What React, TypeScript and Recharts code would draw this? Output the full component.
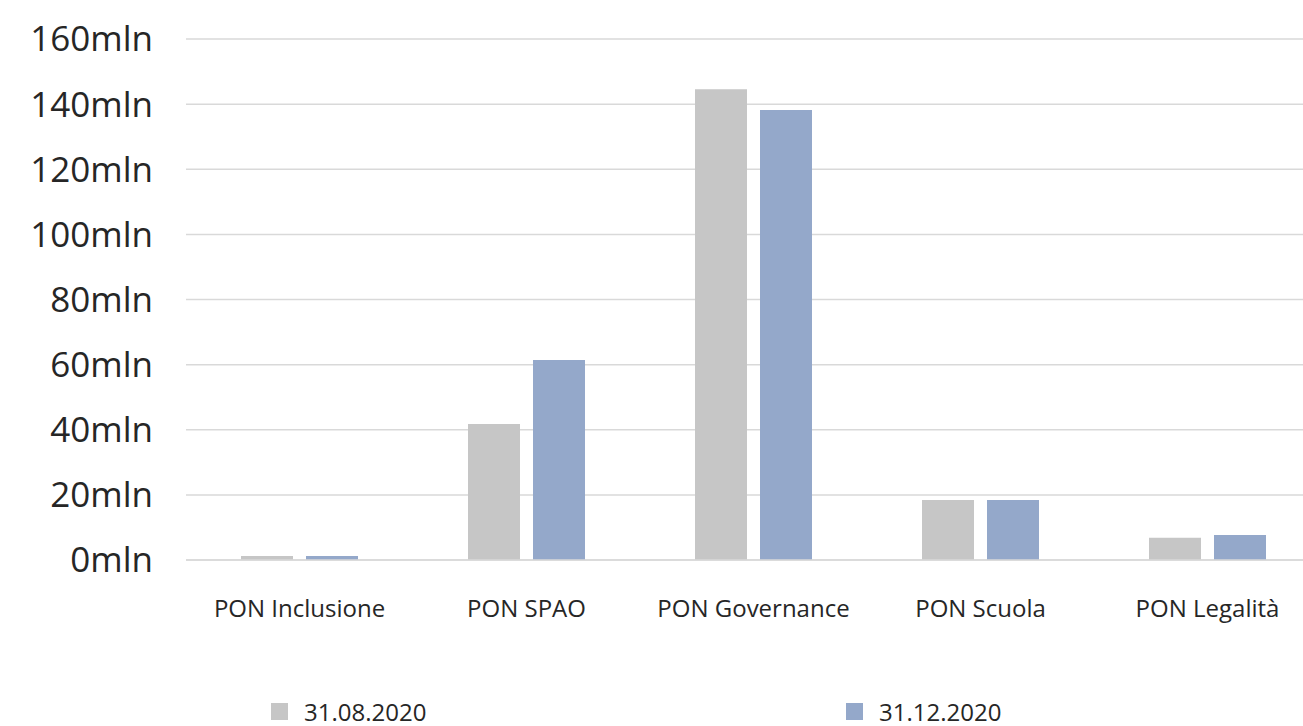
import { BarChart, Bar, XAxis, YAxis, CartesianGrid, Legend } from 'recharts';

const categories = ['PON Inclusione', 'PON SPAO', 'PON Governance', 'PON Scuola', 'PON Legalità'];
const agosto2020 = [1.2, 41.8, 144.6, 18.4, 6.8];
const dicembre2020 = [1.2, 61.4, 138.2, 18.4, 7.7];
const yTicks = [0, 20, 40, 60, 80, 100, 120, 140, 160];

const series = [
  { key: 'agosto', name: '31.08.2020', color: '#c6c6c6', left: 271 },
  { key: 'dicembre', name: '31.12.2020', color: '#94a8ca', left: 846 },
];

const data = categories.map((name, i) => ({
  name,
  agosto: agosto2020[i],
  dicembre: dicembre2020[i],
}));

const font = '"Open Sans", "Noto Sans", sans-serif';

function LegendContent() {
  return (
    <div style={{ position: 'relative', width: 1303, height: 30, fontFamily: font }}>
      {series.map((s) => (
        <div
          key={s.key}
          style={{
            position: 'absolute',
            left: s.left,
            top: 0,
            height: 30,
            display: 'flex',
            alignItems: 'center',
          }}
        >
          <span style={{ width: 17, height: 17, background: s.color, display: 'inline-block', marginRight: 16 }} />
          <span style={{ fontSize: 24, color: '#262626' }}>{s.name}</span>
        </div>
      ))}
    </div>
  );
}

export default function App() {
  return (
    <div
      style={{
        position: 'absolute',
        top: 0,
        left: 0,
        width: 1303,
        height: 726,
        overflow: 'hidden',
        background: '#ffffff',
      }}
    >
      <BarChart
        width={1325}
        height={726}
        data={data}
        margin={{ top: 39, right: 4, bottom: 0, left: 0 }}
        barSize={52}
        barGap={13}
      >
        <CartesianGrid vertical={false} stroke="#d9d9d9" strokeWidth={1.5} />
        <XAxis
          dataKey="name"
          height={136}
          axisLine={{ stroke: '#d9d9d9', strokeWidth: 1.5 }}
          tickLine={false}
          tickMargin={34}
          interval={0}
          tick={{ fill: '#262626', fontSize: 24, fontFamily: font }}
        />
        <YAxis
          width={186}
          domain={[0, 160]}
          ticks={yTicks}
          axisLine={false}
          tickLine={false}
          tickMargin={27}
          tickFormatter={(v) => `${v}mln`}
          tick={{ fill: '#262626', fontSize: 35, fontFamily: font }}
        />
        <Legend verticalAlign="bottom" height={30} content={<LegendContent />} />
        {series.map((s) => (
          <Bar key={s.key} dataKey={s.key} name={s.name} fill={s.color} isAnimationActive={false} />
        ))}
      </BarChart>
    </div>
  );
}
